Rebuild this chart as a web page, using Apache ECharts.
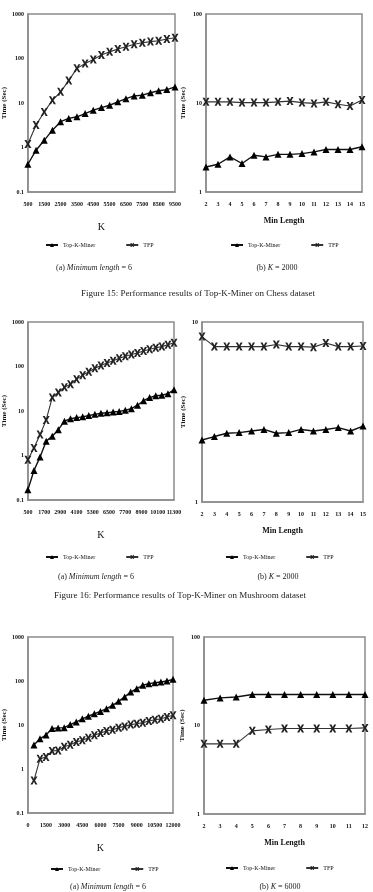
<!DOCTYPE html>
<html>
<head>
<meta charset="utf-8">
<script src="https://cdn.jsdelivr.net/npm/echarts@6/dist/echarts.min.js"></script>
<style>
  html, body { margin: 0; padding: 0; background: #fff; }
  #chart { width: 373px; height: 892px; }
</style>
</head>
<body>
<div id="chart"></div>
<script>
// Figure 15 - Chess, (a) time vs K
const chessK = [500, 1000, 1500, 2000, 2500, 3000, 3500, 4000, 4500, 5000, 5500, 6000, 6500, 7000, 7500, 8000, 8500, 9000, 9500];
const chessKMiner = [0.42, 0.87, 1.45, 2.45, 3.8, 4.5, 4.9, 5.8, 6.9, 7.9, 8.9, 10.6, 12.5, 14.4, 15, 17, 18.8, 20, 23];
const chessKTfp = [1.2, 3.2, 6.3, 11.5, 17.8, 32, 60, 77, 95, 120, 141, 163, 184, 209, 226, 240, 251, 274, 293];
// (b) time vs min length
const chessLen = ['2', '3', '4', '5', '6', '7', '8', '9', '10', '11', '12', '13', '14', '15'];
const chessLenMiner = [1.91, 2.05, 2.48, 2.09, 2.59, 2.48, 2.65, 2.65, 2.7, 2.82, 3.0, 3.0, 3.0, 3.22];
const chessLenTfp = [10.3, 10.3, 10.3, 10.1, 10.1, 10.1, 10.3, 10.5, 10.1, 9.9, 10.3, 9.7, 9.25, 10.8];

// Figure 16 - Mushroom
const mushK = [500, 950, 1400, 1850, 2300, 2750, 3200, 3650, 4100, 4550, 5000, 5450, 5900, 6350, 6800, 7250, 7700, 8150, 8600, 9050, 9500, 9950, 10400, 10850, 11300];
const mushKMiner = [0.17, 0.46, 0.93, 2.1, 2.7, 3.8, 5.9, 6.7, 7.1, 7.4, 7.9, 8.4, 8.9, 9.1, 9.5, 9.8, 10.4, 11.3, 13.5, 17, 20, 22, 22.6, 24.5, 30];
const mushKTfp = [0.8, 1.48, 2.95, 6.3, 20, 26, 34, 40, 52, 64, 76, 91, 105, 120, 135, 153, 170, 186, 202, 224, 245, 263, 280, 307, 340];
const mushLen = ['2', '3', '4', '5', '6', '7', '8', '9', '10', '11', '12', '13', '14', '15'];
const mushLenMiner = [2.21, 2.31, 2.41, 2.43, 2.48, 2.53, 2.41, 2.43, 2.53, 2.48, 2.53, 2.59, 2.48, 2.64];
const mushLenTfp = [8.3, 7.3, 7.3, 7.3, 7.3, 7.3, 7.5, 7.3, 7.3, 7.25, 7.65, 7.3, 7.3, 7.35];

// third dataset
const thirdK = [500, 1000, 1500, 2000, 2500, 3000, 3500, 4000, 4500, 5000, 5500, 6000, 6500, 7000, 7500, 8000, 8500, 9000, 9500, 10000, 10500, 11000, 11500, 12000];
const thirdKTfp = [3.5, 4.9, 5.9, 8.3, 8.6, 8.7, 10.2, 11.7, 13.8, 15.8, 18, 20.4, 23.5, 28, 34.5, 43.5, 56, 67, 80, 87, 91, 95, 100, 109];
const thirdKMiner = [0.55, 1.7, 1.88, 2.57, 2.65, 3.2, 3.55, 4.1, 4.5, 5.1, 5.85, 6.6, 7.3, 7.8, 8.7, 9.3, 10.2, 10.7, 11.3, 12.3, 13.2, 13.8, 15.2, 16.6];
const thirdLen = ['2', '3', '4', '5', '6', '7', '8', '9', '10', '11', '12'];
const thirdLenTfp = [19.3, 20.5, 21.0, 22.4, 22.4, 22.4, 22.4, 22.4, 22.4, 22.4, 22.4];
const thirdLenMiner = [6.2, 6.2, 6.2, 8.7, 9.0, 9.25, 9.25, 9.25, 9.25, 9.25, 9.4];

const FONT = '"Liberation Serif", "DejaVu Serif", serif';
const CROSS = 'path://M0,0L3,0L5,3.2L7,0L10,0L6.6,5L10,10L7,10L5,6.8L3,10L0,10L3.4,5Z';

const grids = [
  { left: 22, top: 14, width: 153, height: 178 },
  { left: 206, top: 14, width: 156, height: 178 },
  { left: 21, top: 322, width: 153, height: 178 },
  { left: 202, top: 322, width: 161, height: 180 },
  { left: 22, top: 637, width: 151, height: 176 },
  { left: 204, top: 637, width: 161, height: 177 }
].map(g => Object.assign(g, { show: true, borderColor: '#8c8c8c', borderWidth: 1.5 }));

const lineAxis = { show: true, lineStyle: { color: '#8c8c8c', width: 1.5 } };
const tickLabel = { fontFamily: FONT, fontSize: 6, color: '#111', fontWeight: 'bold' };
const plain = v => String(v);

function xValue(gi, min, max, interval) {
  return {
    gridIndex: gi, type: 'value', min, max, interval,
    name: 'K', nameLocation: 'middle', nameGap: 30,
    nameTextStyle: { fontFamily: FONT, fontSize: 10, color: '#111' },
    axisLine: lineAxis, axisTick: { show: false }, splitLine: { show: false },
    axisLabel: Object.assign({ margin: 9, formatter: plain, hideOverlap: false }, tickLabel)
  };
}
function xCat(gi, data) {
  return {
    gridIndex: gi, type: 'category', data, boundaryGap: false,
    name: 'Min Length', nameLocation: 'middle', nameGap: 25,
    nameTextStyle: { fontFamily: FONT, fontSize: 8, color: '#111', fontWeight: 'bold' },
    axisLine: lineAxis, axisTick: { show: false }, splitLine: { show: false },
    axisLabel: Object.assign({ margin: 9, interval: 0 }, tickLabel)
  };
}
function yLog(gi, min, max, gap) {
  return {
    gridIndex: gi, type: 'log', logBase: 10, min, max,
    name: 'Time (Sec)', nameLocation: 'middle', nameGap: gap, nameRotate: 90,
    nameTextStyle: { fontFamily: FONT, fontSize: 7, color: '#111', fontWeight: 'bold' },
    axisLine: lineAxis, axisTick: { show: false }, splitLine: { show: false },
    axisLabel: Object.assign({ margin: 4, formatter: plain }, tickLabel)
  };
}

function tri(name, gi, data) {
  return {
    name, type: 'line', xAxisIndex: gi, yAxisIndex: gi, data,
    symbol: 'triangle', symbolSize: 7, showSymbol: true,
    lineStyle: { color: '#111', width: 1.4 }, itemStyle: { color: '#000' }
  };
}
function cross(name, gi, data) {
  return {
    name, type: 'line', xAxisIndex: gi, yAxisIndex: gi, data,
    symbol: CROSS, symbolSize: [7, 8], showSymbol: true,
    lineStyle: { color: '#333', width: 1.1 }, itemStyle: { color: '#222' }
  };
}
const pairs = (xs, ys) => xs.map((x, i) => [x, ys[i]]);

function legendAt(left, top) {
  return {
    left, top, itemGap: 30, itemWidth: 12, itemHeight: 5,
    data: ['Top-K-Miner', 'TFP'], selectedMode: false,
    textStyle: { fontFamily: FONT, fontSize: 6, color: '#111' }
  };
}

function caption(x, y, letter, italic, rest) {
  return {
    type: 'text', x, y,
    style: {
      text: '{n|' + letter + ' }{i|' + italic + '}{n|' + rest + '}',
      align: 'center', verticalAlign: 'middle',
      rich: {
        n: { fontFamily: FONT, fontSize: 8, fill: '#222' },
        i: { fontFamily: FONT, fontSize: 8, fontStyle: 'italic', fill: '#222' }
      }
    }
  };
}
function figTitle(x, y, text) {
  return {
    type: 'text', x, y,
    style: { text, font: '9px ' + FONT, fill: '#222', align: 'center', verticalAlign: 'middle' }
  };
}

const option = {
  backgroundColor: '#fff',
  animation: false,
  grid: grids,
  xAxis: [
    xValue(0, 500, 9500, 1000),
    xCat(1, chessLen),
    xValue(2, 500, 11300, 1200),
    xCat(3, mushLen),
    xValue(4, 0, 12000, 1500),
    xCat(5, thirdLen)
  ],
  yAxis: [
    yLog(0, 0.1, 1000, 17),
    yLog(1, 1, 100, 19),
    yLog(2, 0.1, 1000, 16),
    yLog(3, 1, 10, 15),
    yLog(4, 0.1, 1000, 17),
    yLog(5, 1, 100, 18)
  ],
  legend: [
    legendAt(40, 237), legendAt(225, 237),
    legendAt(40, 549), legendAt(220, 549),
    legendAt(45, 861), legendAt(220, 860)
  ],
  series: [
    tri('Top-K-Miner', 0, pairs(chessK, chessKMiner)),
    cross('TFP', 0, pairs(chessK, chessKTfp)),
    tri('Top-K-Miner', 1, chessLenMiner),
    cross('TFP', 1, chessLenTfp),
    tri('Top-K-Miner', 2, pairs(mushK, mushKMiner)),
    cross('TFP', 2, pairs(mushK, mushKTfp)),
    tri('Top-K-Miner', 3, mushLenMiner),
    cross('TFP', 3, mushLenTfp),
    tri('TFP', 4, pairs(thirdK, thirdKTfp)),
    cross('Top-K-Miner', 4, pairs(thirdK, thirdKMiner)),
    tri('TFP', 5, thirdLenTfp),
    cross('Top-K-Miner', 5, thirdLenMiner)
  ],
  graphic: [
    caption(94, 268, '(a)', 'Minimum length', ' = 6'),
    caption(277, 268, '(b)', 'K', ' = 2000'),
    figTitle(198, 294, 'Figure 15: Performance results of Top-K-Miner on Chess dataset'),
    caption(96, 577, '(a)', 'Minimum length', ' = 6'),
    caption(278, 577, '(b)', 'K', ' = 2000'),
    figTitle(180, 596, 'Figure 16: Performance results of Top-K-Miner on Mushroom dataset'),
    caption(108, 887, '(a)', 'Minimum length', ' = 6'),
    caption(280, 887, '(b)', 'K', ' = 6000')
  ]
};

const chart = echarts.init(document.getElementById('chart'), null, { renderer: 'canvas' });
chart.setOption(option);
</script>
</body>
</html>
